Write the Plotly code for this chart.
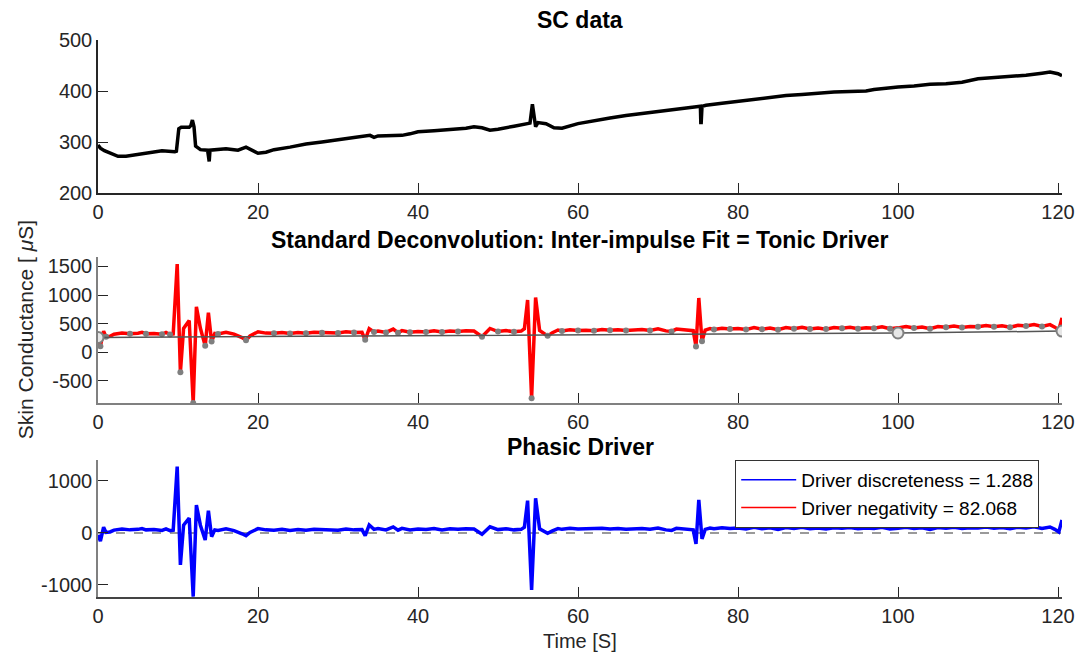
import plotly.graph_objects as go

# SC data (top panel)
sc_time = [0, 0.3, 0.8, 1.5, 2.5, 3.5, 5, 6.5, 8, 9.6, 9.8, 10.1, 10.4, 11.4, 11.6, 11.8, 12.0, 12.2,
           12.8, 13.7, 13.8, 13.9, 14.0, 15, 16, 17, 17.5, 18.5, 19.2, 20, 21, 22, 24, 26, 28, 30,
           32, 34, 34.5, 35, 37, 38, 39, 40, 42, 44, 46, 47, 48, 49, 50, 52, 53.5, 54.0, 54.3,
           54.5, 54.7, 55, 56, 57, 58, 60, 62, 64, 66, 68, 70, 72, 74, 75.3, 75.35, 75.4, 75.5,
           76, 78, 80, 82, 84, 86, 88, 90, 92, 94, 96, 97, 98, 100, 102, 104, 106, 108, 110, 112,
           114, 116, 118, 119, 120, 120.5]
sc_values = [294, 288, 283, 278, 272, 272, 276, 280, 283, 281, 282, 326, 329, 329, 332, 343, 330, 292,
             285, 284, 262, 262, 284, 285, 287, 285, 284, 290, 285, 278, 280, 285, 290, 296, 300, 305,
             309, 313, 309, 312, 313, 313, 316, 320, 322, 324, 327, 330, 328, 323, 325, 331, 335, 337, 374,
             345, 330, 338, 336, 328, 327, 336, 342, 347, 352, 356, 360, 364, 368, 370, 338, 338, 370,
             372, 376, 380, 384, 387, 391, 393, 396, 398, 399, 400, 403, 405, 408, 410, 413, 414, 417, 424, 426,
             428, 431, 435, 437, 434, 430]

# driver / phasic driver sample times
drv_time = [0, 0.3, 0.7, 1.0, 1.5, 2, 3, 4, 5, 5.5, 6, 7, 8, 8.5, 9, 9.4,
            9.9, 10.3, 10.7, 11.0, 11.4, 11.9, 12.3, 12.8, 13.4, 13.8, 14.2, 14.6,
            15, 16, 17, 18, 18.5, 19, 20, 21, 22, 23, 24, 25, 26, 27, 28, 29, 30, 31, 32, 33,
            33.4, 33.9, 34.5, 35, 36, 36.9, 37.5, 38, 39, 40, 41, 42, 43, 44, 45, 46, 47, 48, 49,
            50, 51, 52, 52.9, 53.3,
            53.7, 54.2, 54.7, 55.2, 55.7, 56.2, 56.8,
            57.5, 58, 59, 60, 61, 62, 63, 64, 65, 66, 67, 68, 69, 70, 71, 71.7, 72.3, 73, 74, 74.4,
            74.75, 75.1, 75.5, 75.9,
            76.5, 77, 78, 79, 80, 81, 82, 83, 84, 85, 86, 87, 88, 89, 90, 91, 92, 93, 94, 95, 96,
            97, 98, 99, 100, 101, 102, 103, 104, 105, 106, 107, 108, 109, 110, 111, 112, 113, 114,
            115, 116, 117, 118, 119, 119.6, 120.1, 120.5]

driver_values = [219, 103, 368, 268, 278, 314, 334, 320, 331, 346, 322, 327, 313, 344, 309, 319,
                 1541, -350, 415, 466, 554, -890, 795, 417, 110, 690, 185, 328,
                 319, 349, 315, 256, 210, 282, 357, 333, 329, 345, 326, 342, 332, 348, 339, 345, 335, 356,
                 342, 348, 215, 410, 354, 369, 345, 403, 341, 377, 347, 363, 354, 375, 351, 371, 362, 373,
                 369, 270, 415, 361, 377, 358, 368, 409,
                 912, -807, 955, 380, 331, 285, 341,
                 387, 372, 393, 379, 385, 375, 396, 382, 393, 378, 389, 395, 381, 407, 372, 363, 403, 394,
                 390, 375,
                 100, 948, 190, 386,
                 412, 397, 418, 404, 414, 395, 431, 402, 423, 393, 429, 410, 436, 406, 422, 403, 429, 420,
                 435, 411, 427, 418, 443, 409, 425, 447, 423, 440, 411, 448, 435, 456, 433, 450, 446, 468,
                 444, 461, 437, 469, 456, 482, 449, 481, 437, 388, 600]

phasic_values = [-38, -154, 110, 10, 20, 55, 75, 60, 70, 85, 60, 65, 50, 80, 45, 55,
                 1276, -615, 150, 200, 288, -1224, 538, 150, -135, 429, -70, 60,
                 50, 80, 45, -15, -51, 10, 84, 60, 55, 70, 50, 65, 55, 70, 60, 65, 55, 75, 60, 65,
                 -51, 154, 70, 85, 60, 117, 55, 90, 60, 75, 65, 85, 60, 80, 70, 80, 75, -24, 120,
                 65, 80, 60, 70, 110,
                 622, -1096, 667, 80, 30, -6, 40,
                 85, 70, 90, 75, 80, 70, 90, 75, 85, 70, 80, 85, 70, 95, 60, 50, 90, 80, 75, 60,
                 -212, 635, -115, 70,
                 95, 80, 100, 85, 95, 75, 110, 80, 100, 70, 105, 85, 110, 80, 95, 75, 100, 90, 105, 80,
                 95, 85, 110, 75, 90, 110, 85, 100, 70, 105, 90, 110, 85, 100, 95, 115, 90, 105, 80,
                 110, 95, 120, 85, 115, 70, 20, 250]

# tonic driver knots
tonic_time = [0, 100, 120.5]
tonic_values = [257, 335, 368]

x_ticks = [0, 20, 40, 60, 80, 100, 120]
sc_ticks = [200, 300, 400, 500]
drv_ticks = [-500, 0, 500, 1000, 1500]
ph_ticks = [-1000, 0, 1000]

legend_labels = ["Driver discreteness = 1.288", "Driver negativity = 82.068"]

FONT = "Liberation Sans, Arial, sans-serif"
TXT = "#262626"
TICK_SIZE = 20

# inter-impulse samples: local minima of the driver
inter_t, inter_v = [], []
for i in range(1, len(driver_values) - 1):
    if driver_values[i] <= driver_values[i - 1] and driver_values[i] <= driver_values[i + 1]:
        inter_t.append(drv_time[i])
        inter_v.append(driver_values[i])

fig = go.Figure()

fig.add_trace(go.Scatter(x=sc_time, y=sc_values, mode="lines",
                         line=dict(color="black", width=3.5), showlegend=False,
                         xaxis="x", yaxis="y"))

fig.add_trace(go.Scatter(x=drv_time, y=driver_values, mode="lines",
                         line=dict(color="#ff0000", width=3.5), showlegend=False,
                         xaxis="x2", yaxis="y2"))
fig.add_trace(go.Scatter(x=inter_t, y=inter_v, mode="markers",
                         marker=dict(color="#7f7f7f", size=6), showlegend=False,
                         xaxis="x2", yaxis="y2"))
fig.add_trace(go.Scatter(x=tonic_time, y=tonic_values, mode="lines+markers",
                         line=dict(color="#555555", width=1.5),
                         marker=dict(size=11, color="#e6e6e6", line=dict(color="#808080", width=2)),
                         showlegend=False, xaxis="x2", yaxis="y2"))

fig.add_trace(go.Scatter(x=[drv_time[0], drv_time[-1]], y=[0, 0], mode="lines",
                         line=dict(color="#9a9a9a", width=2, dash="dash"), showlegend=False,
                         xaxis="x3", yaxis="y3"))
fig.add_trace(go.Scatter(x=drv_time, y=phasic_values, mode="lines",
                         line=dict(color="#0000ff", width=3.5), showlegend=False,
                         xaxis="x3", yaxis="y3"))

# legend entries
fig.add_trace(go.Scatter(x=[None], y=[None], mode="lines", name=legend_labels[0],
                         line=dict(color="#0000ff", width=1.5), xaxis="x3", yaxis="y3"))
fig.add_trace(go.Scatter(x=[None], y=[None], mode="lines", name=legend_labels[1],
                         line=dict(color="#ff0000", width=1.5), xaxis="x3", yaxis="y3"))


def xax(anchor, line_color):
    return dict(range=[0, 120.5], tickvals=x_ticks, ticktext=[str(v) for v in x_ticks],
                ticks="inside", ticklen=10, tickcolor=TXT, showline=True, linecolor=line_color,
                linewidth=1.5, showgrid=False, zeroline=False, anchor=anchor, automargin=False,
                tickfont=dict(size=TICK_SIZE, color=TXT, family=FONT))


def yax(rng, ticks, dom, anchor, line_color):
    return dict(range=rng, tickvals=ticks, ticktext=[str(v) for v in ticks], domain=dom,
                ticks="inside", ticklen=10, tickcolor=TXT, showline=True, linecolor=line_color,
                linewidth=1.5, showgrid=False, zeroline=False, anchor=anchor, automargin=False,
                tickfont=dict(size=TICK_SIZE, color=TXT, family=FONT))


def note(text, x, y, size, color, angle=0):
    return dict(text=text, x=x, y=y, xref="paper", yref="paper", xanchor="center",
                yanchor="middle", textangle=angle, showarrow=False,
                font=dict(size=size, color=color, family=FONT))


fig.update_layout(
    width=1077, height=657,
    margin=dict(l=98, r=15, t=40, b=60),
    paper_bgcolor="white", plot_bgcolor="white",
    font=dict(family=FONT, color=TXT),
    xaxis=xax("y", TXT),
    yaxis=yax([200, 500], sc_ticks, [0.7253, 1.0], "x", TXT),
    xaxis2=xax("y2", "#808080"),
    yaxis2=yax([-890, 1665], drv_ticks, [0.3483, 0.6104], "x2", "#808080"),
    xaxis3=xax("y3", "#444444"),
    yaxis3=yax([-1231, 1404], ph_ticks, [0.0, 0.246], "x3", "#808080"),
    legend=dict(x=0.661, y=0.246, xanchor="left", yanchor="top",
                bgcolor="white", bordercolor="#333333", borderwidth=1,
                font=dict(size=19, color="black", family=FONT),
                tracegroupgap=0, itemwidth=55),
    annotations=[
        note("<b>SC data</b>", 0.5, 1.036, 23, "black"),
        note("<b>Standard Deconvolution: Inter-impulse Fit = Tonic Driver</b>", 0.5, 0.641, 23, "black"),
        note("<b>Phasic Driver</b>", 0.5, 0.269, 23, "black"),
        note("Skin Conductance [ <i>\u03bc</i>S]", -0.0757, 0.479, 21, TXT, -90),
        note("Time [S]", 0.5, -0.079, 20, TXT),
    ],
)

# drop the default page margin so the figure sits at the window origin
fig.write_html("out.html", config={"displayModeBar": False},
               post_script="document.body.style.margin='0';")
